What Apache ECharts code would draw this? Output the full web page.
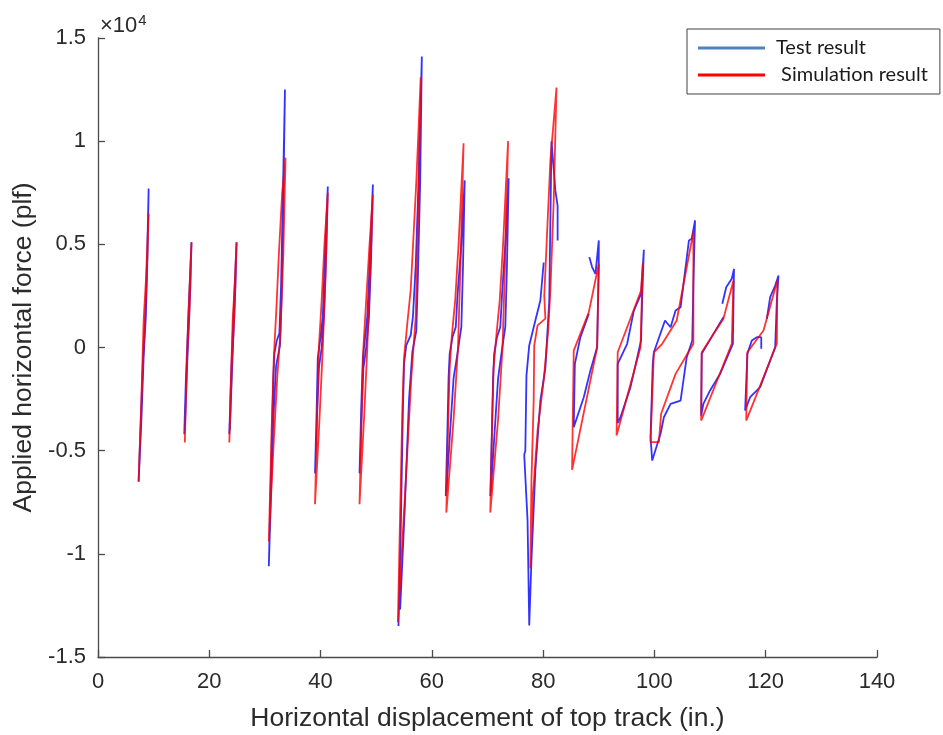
<!DOCTYPE html>
<html><head><meta charset="utf-8">
<script src="https://cdn.jsdelivr.net/npm/echarts@6/dist/echarts.min.js"></script>
<style>html,body{margin:0;padding:0;background:#fff}#c{width:943px;height:735px}</style>
</head><body><div id="c"></div>
<script>
// x axis: horizontal displacement (in.), y axis: force (plf)
const xRange = [0, 140];
const yRange = [-15000, 15000];
const seriesNames = ['Test result', ' Simulation result'];

const test01 = [[7.3,-6500],[7.7,-3500],[8.1,-500],[8.5,1500],[8.8,4000],[9.1,7700],[8.9,4500],[8.6,1500],[8.2,-500],[7.8,-3500],[7.3,-6500]];
const sim01  = [[7.3,-6500],[7.8,-2500],[8.2,1300],[8.6,3200],[9.1,6500],[8.7,3000],[8.1,-500],[7.3,-6500]];
const test02 = [[15.5,-4200],[15.8,-1500],[16.1,500],[16.4,2500],[16.8,5100],[16.6,3000],[16.3,1000],[16.0,-1000],[15.6,-4000]];
const sim02  = [[15.6,-4600],[15.9,-1500],[16.2,1300],[16.5,3200],[16.8,5100],[16.4,1500],[16.0,-500],[15.6,-4600]];
const test03 = [[23.6,-4200],[23.9,-1500],[24.2,500],[24.5,2500],[24.9,5100],[24.7,3000],[24.4,1000],[24.1,-1000],[23.7,-4000]];
const sim03  = [[23.6,-4600],[23.9,-1500],[24.2,1300],[24.6,3200],[24.9,5100],[24.5,1500],[24.1,-500],[23.6,-4600]];
const test04 = [[30.7,-10600],[31.1,-6000],[31.5,-1500],[31.7,-300],[32.1,300],[32.6,700],[32.9,3000],[33.2,7000],[33.6,12500],[33.3,7000],[33.0,2500],[32.7,100],[32.0,-900],[31.5,-3500],[31.1,-7000],[30.7,-10600]];
const sim04  = [[30.7,-9400],[31.2,-4000],[31.6,-500],[32.1,2100],[32.5,4500],[33.1,7500],[33.7,9200],[33.3,4500],[32.8,800],[32.2,-1500],[31.5,-5000],[30.7,-9400]];
const test05 = [[39.0,-6100],[39.3,-3000],[39.5,-500],[40.0,500],[40.4,1500],[40.8,4500],[41.3,7800],[41.0,4500],[40.6,1500],[40.2,0],[39.7,-1000],[39.4,-3000],[39.0,-6100]];
const sim05  = [[39.0,-7600],[39.4,-3000],[39.7,0],[40.2,2300],[40.7,5000],[41.3,7500],[40.9,3500],[40.4,0],[39.8,-3500],[39.0,-7600]];
const test06 = [[47.0,-6100],[47.3,-3000],[47.6,-500],[48.0,500],[48.4,1500],[48.9,4500],[49.4,7900],[49.1,4500],[48.7,1500],[48.2,0],[47.7,-1000],[47.4,-3000],[47.0,-6100]];
const sim06  = [[47.0,-7600],[47.4,-3000],[47.7,0],[48.2,2300],[48.8,5000],[49.4,7400],[48.9,3500],[48.4,0],[47.8,-3500],[47.0,-7600]];
const test07 = [[54.0,-13500],[54.4,-9000],[54.8,-3000],[55.0,-800],[55.4,100],[56.2,600],[56.6,1500],[57.1,4000],[57.6,8000],[58.2,14100],[57.9,8000],[57.5,3500],[57.2,800],[56.5,-200],[55.9,-2500],[55.1,-8000],[54.3,-12700]];
const sim07  = [[53.9,-13300],[54.3,-8000],[54.7,-3000],[55.0,-500],[55.6,1200],[56.2,2800],[57.2,8000],[58.0,13100],[57.6,7000],[57.1,1500],[56.3,-1500],[55.3,-6500],[53.9,-13300]];
const test08 = [[62.5,-7200],[62.8,-4000],[63.0,-1500],[63.2,-300],[63.7,500],[64.3,1000],[64.6,2500],[65.3,5000],[65.9,8100],[65.6,4000],[65.3,1000],[64.6,-300],[63.9,-1500],[63.3,-4000],[62.6,-7000]];
const sim08  = [[62.6,-8000],[62.9,-4000],[63.2,-1000],[63.6,600],[64.2,2300],[64.8,5000],[65.7,9900],[65.2,4500],[64.7,0],[63.9,-3500],[62.6,-8000]];
const test09 = [[70.5,-7200],[70.8,-4000],[71.0,-1500],[71.2,-300],[71.7,500],[72.3,1000],[72.6,2500],[73.2,5000],[73.8,8200],[73.5,4000],[73.2,1000],[72.5,-300],[71.9,-1500],[71.3,-4000],[70.6,-7000]];
const sim09  = [[70.5,-8000],[70.8,-4000],[71.1,-1000],[71.6,600],[72.2,2300],[72.8,5000],[73.7,10000],[73.2,4500],[72.7,0],[71.9,-3500],[70.5,-8000]];
const test10 = [[80.1,4120],[79.5,2280],[78.6,1310],[77.5,100],[77.0,-1360],[76.8,-5000],[76.6,-5200],[77.2,-8390],[77.5,-13470],[77.9,-10300],[78.6,-5960],[79.5,-2570],[80.4,-1000],[81.1,2280],[81.5,10000],[82.2,7600],[82.6,6880],[82.6,5190]];
const sim10  = [[77.7,-10700],[77.9,-6450],[78.3,-2570],[78.4,100],[79.0,1070],[80.4,1400],[80.2,2520],[81.3,9060],[82.4,12600],[81.9,7100],[81.3,2760],[80.9,820],[80.1,-1600],[79.0,-4020],[78.1,-7420],[77.7,-10700]];
const test11 = [[88.3,4380],[88.8,3900],[89.4,3570],[90.0,5190],[90.0,4060],[89.7,15],[88.5,-1110],[87.3,-2410],[86.1,-3380],[85.5,-3860],[85.7,-790],[86.7,500],[88.2,1630]];
const sim11  = [[85.2,-5930],[85.5,-150],[88.2,1700],[90.0,4060],[89.7,0],[85.2,-5930]];
const test12 = [[96.3,1790],[97.6,2600],[98.1,4740],[97.8,2440],[97.6,340],[95.7,-1920],[93.9,-3380],[93.4,-3670],[93.4,-790],[95.1,180],[96.3,1790]];
const sim12  = [[93.2,-4270],[93.4,-230],[97.6,2760],[97.9,4060],[97.5,15],[93.2,-4270]];
const test13 = [[99.9,-230],[101.9,1310],[102.9,980],[103.8,1790],[104.7,1950],[105.6,3890],[106.2,5190],[106.7,5270],[107.3,6160],[107.0,3090],[106.8,340],[105.8,-470],[104.7,-2570],[102.9,-2730],[101.7,-3380],[101.1,-4180],[99.6,-5480],[99.3,-4350],[99.7,-790],[99.9,-230]];
const sim13  = [[99.9,-230],[99.3,-4590],[100.8,-4590],[101.2,-3210],[103.8,-1280],[107.0,180],[107.0,5590],[105.8,3890],[104.0,1310],[101.4,180],[99.9,-230]];
const test14 = [[112.2,2120],[112.9,2920],[113.9,3330],[114.3,3810],[114.1,180],[111.8,-1280],[110.0,-2080],[108.8,-2730],[108.4,-3300],[108.5,-310],[110.6,660],[112.4,1470]];
const sim14  = [[108.4,-3540],[108.5,-230],[112.4,1390],[114.2,3250],[113.9,180],[108.4,-3540]];
const test15 = [[119.2,-60],[119.2,500],[118.4,500],[117.5,340],[116.7,-310],[116.3,-3050],[117.2,-2410],[119.0,-1920],[121.7,15],[122.0,2280],[122.3,3490],[121.7,3000],[120.8,2440],[120.2,1390]];
const sim15  = [[116.5,-3540],[116.7,-230],[119.6,820],[122.1,3250],[122.0,180],[116.5,-3540]];

const testCycles = [test01,test02,test03,test04,test05,test06,test07,test08,test09,test10,test11,test12,test13,test14,test15];
const simCycles  = [sim01,sim02,sim03,sim04,sim05,sim06,sim07,sim08,sim09,sim10,sim11,sim12,sim13,sim14,sim15];

const FONT = 'Liberation Sans, Arial, sans-serif';
const TXT = '#2b2b2b';
const AX = '#4a4a4a';

function mk(name, data, lineColor, legendColor, z) {
  return {
    type: 'line', name: name, data: data,
    showSymbol: false, symbol: 'none', smooth: false, silent: true,
    animation: false, z: z,
    lineStyle: { color: lineColor, width: 1.8, opacity: 0.8 },
    itemStyle: { color: legendColor }
  };
}
const series = [];
testCycles.forEach(d => series.push(mk(seriesNames[0], d, '#0000ff', '#4f81bd', 2)));
simCycles.forEach(d => series.push(mk(seriesNames[1], d, '#ff0000', '#ff0000', 3)));

const chart = echarts.init(document.getElementById('c'), null, { renderer: 'canvas' });
chart.setOption({
  backgroundColor: '#ffffff',
  animation: false,
  grid: { left: 98, right: 66, top: 38, bottom: 78, containLabel: false, outerBoundsMode: 'none' },
  xAxis: {
    type: 'value', min: xRange[0], max: xRange[1], interval: 20,
    name: 'Horizontal displacement of top track (in.)', nameLocation: 'middle', nameGap: 48,
    nameTextStyle: { fontFamily: FONT, fontSize: 26.5, color: TXT },
    axisLine: { show: true, onZero: false, lineStyle: { color: AX, width: 1.3 } },
    axisTick: { show: true, inside: true, length: 7, lineStyle: { color: AX, width: 1.3 } },
    axisLabel: { fontFamily: FONT, fontSize: 22, color: TXT, margin: 14 },
    splitLine: { show: false }
  },
  yAxis: {
    type: 'value', min: yRange[0], max: yRange[1], interval: 5000,
    name: 'Applied horizontal force (plf)', nameLocation: 'middle', nameGap: 54,
    nameTextStyle: { fontFamily: FONT, fontSize: 26.5, color: TXT },
    axisLine: { show: true, onZero: false, lineStyle: { color: AX, width: 1.3 } },
    axisTick: { show: true, inside: true, length: 7, lineStyle: { color: AX, width: 1.3 } },
    axisLabel: { fontFamily: FONT, fontSize: 22, color: TXT, margin: 12,
      formatter: v => String(Math.round(v / 1000) / 10) },
    splitLine: { show: false }
  },
  legend: {
    orient: 'vertical', left: 687, top: 29,
    data: seriesNames,
    icon: 'rect', itemWidth: 67, itemHeight: 3, itemGap: 7,
    padding: [9, 12, 9, 11],
    borderColor: '#404040', borderWidth: 1, backgroundColor: '#fff',
    textStyle: { fontFamily: 'Lato, Carlito, sans-serif', fontSize: 20, color: '#1a1a1a', padding: [0, 0, 0, 6] },
    selectedMode: false
  },
  graphic: [
    { type: 'text', left: 100, top: 13, silent: true,
      style: { text: '×10{s|4}', fontFamily: FONT, fontSize: 22, fill: TXT,
        rich: { s: { fontSize: 15, verticalAlign: 'top', padding: [0,0,10,1], fontFamily: FONT, fill: TXT } } } }
  ],
  series: series
});
</script></body></html>
